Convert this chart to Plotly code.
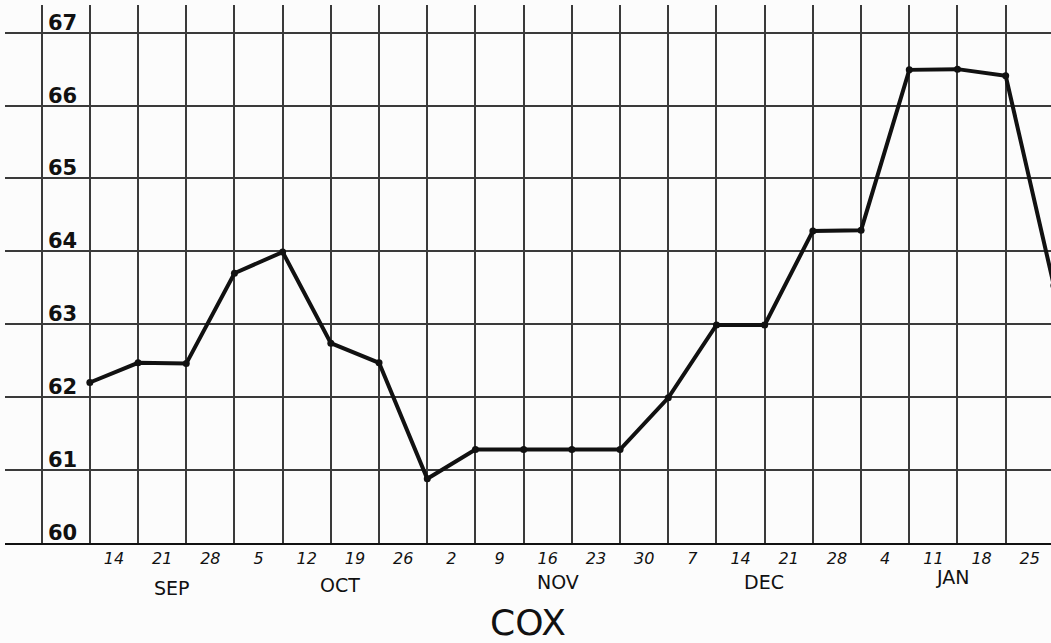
import plotly.graph_objects as go

# weekly readings, plotted on the grid lines (week index 1..21)
week_idx = list(range(1, 22))
values = [62.2, 62.47, 62.46, 63.70, 63.99, 62.74, 62.47, 60.88, 61.28, 61.28,
          61.28, 61.28, 61.99, 62.99, 62.99, 64.28, 64.29, 66.49, 66.50, 66.41, 63.53]

# day-of-month labels, one per week column
day_labels = ["14", "21", "28", "5", "12", "19", "26", "2", "9", "16", "23",
              "30", "7", "14", "21", "28", "4", "11", "18", "25"]
months = ["SEP", "OCT", "NOV", "DEC", "JAN"]
y_ticks = [60, 61, 62, 63, 64, 65, 66, 67]
title = "COX"

INK = "#111111"
GRID = "#3a3a3a"
FONT = "DejaVu Sans"

fig = go.Figure()
fig.add_trace(go.Scatter(
    x=week_idx, y=values, mode="lines+markers",
    line=dict(color=INK, width=4),
    marker=dict(color=INK, size=7),
    hoverinfo="x+y", showlegend=False,
))

# value labels are hand-written just above each line, right of the y axis
for v in y_ticks:
    fig.add_annotation(x=0, y=v, text=str(v), showarrow=False,
                       xanchor="left", yanchor="bottom", xshift=4, yshift=-4,
                       font=dict(family=FONT, size=21, color=INK, weight="bold"))

# month names sit under their weeks (x in week units, y in paper units)
month_x = [2.71, 6.19, 10.71, 14.98, 18.89]
month_y = [-0.084, -0.078, -0.0725, -0.0725, -0.064]
for name, mx, my in zip(months, month_x, month_y):
    fig.add_annotation(x=mx, y=my, yref="paper", text=name, showarrow=False,
                       xanchor="center", yanchor="middle",
                       font=dict(family=FONT, size=19, color=INK))

fig.add_annotation(x=0.5, y=-0.147, xref="paper", yref="paper", text=title,
                   showarrow=False, xanchor="center", yanchor="middle",
                   font=dict(family=FONT, size=36, color=INK))

fig.update_layout(
    width=1051, height=643,
    margin=dict(l=5, r=0, t=5, b=100),
    paper_bgcolor="#fcfcfc", plot_bgcolor="#fcfcfc",
    xaxis=dict(
        range=[-0.76, 20.94],
        tickvals=[i + 1.5 for i in range(len(day_labels))],
        ticktext=day_labels,
        showgrid=False, ticks="", zeroline=False,
        showline=True, linecolor=INK, linewidth=2,
        tickfont=dict(family=FONT, size=16, color=INK, style="italic"),
        minor=dict(tickvals=list(range(0, 22)), showgrid=True,
                   gridcolor=GRID, gridwidth=1.6, ticks=""),
    ),
    yaxis=dict(
        range=[59.998, 67.38],
        anchor="free", position=0.0351,
        showline=True, linecolor=GRID, linewidth=1.8,
        tickvals=y_ticks, showticklabels=False,
        showgrid=True, gridcolor=GRID, gridwidth=1.6,
        zeroline=False, ticks="",
    ),
)

fig.write_html("out.html", config={"displayModeBar": False},
               post_script="document.body.style.margin='0';")
